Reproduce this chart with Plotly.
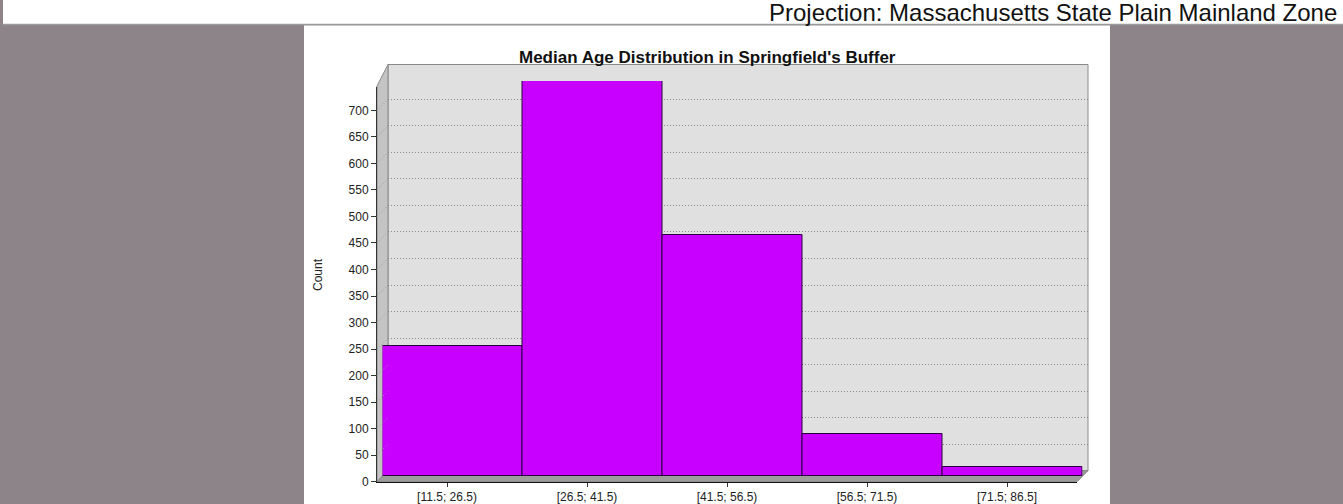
import plotly.graph_objects as go

# Histogram of median age per block group
bins = ["[11.5; 26.5)", "[26.5; 41.5)", "[41.5; 56.5)", "[56.5; 71.5)", "[71.5; 86.5]"]
counts = [246, 745, 455, 80, 17]
y_ticks = list(range(0, 701, 50))

title_text = "Median Age Distribution in Springfield's Buffer"
projection_text = "Projection: Massachusetts State Plain Mainland Zone"

W, H = 1343, 504
FONT = "Liberation Sans, Arial, sans-serif"

# pixel -> paper helpers
def px(x):
    return x / W

def py(y):
    return 1 - y / H

# 3D box geometry (pixels): front plane, depth offset
FX0, FX1 = 377, 1077
FY0, FY1 = 481.7, 86.5
DEPTH = 11
HALF = DEPTH / 2
ymax = max(counts)

fig = go.Figure()

# bars sit half way into the box
fig.add_trace(go.Bar(
    x=bins, y=counts, xaxis="x3", yaxis="y3",
    marker=dict(color="#C800FF", line=dict(color="#2a0040", width=1)),
    hoverinfo="x+y", showlegend=False,
))
# carriers for the front axes and the back-wall grid
fig.add_trace(go.Scatter(x=bins, y=counts, xaxis="x", yaxis="y", mode="markers",
                         marker=dict(opacity=0), hoverinfo="skip", showlegend=False))
fig.add_trace(go.Scatter(x=bins, y=counts, xaxis="x2", yaxis="y2", mode="markers",
                         marker=dict(opacity=0), hoverinfo="skip", showlegend=False))

cat_range = [-0.5, len(bins) - 0.5]

fig.update_layout(
    width=W, height=H, autosize=False,
    margin=dict(l=0, r=0, t=0, b=0, pad=0, autoexpand=False),
    paper_bgcolor="#8d8489",
    plot_bgcolor="rgba(0,0,0,0)",
    bargap=0,
    font=dict(family=FONT, color="#222"),
    xaxis=dict(
        domain=[px(FX0), px(FX1)], anchor="y", type="category", range=cat_range,
        showline=True, linecolor="#111", linewidth=1, automargin=False,
        ticks="outside", ticklen=4, tickcolor="#333",
        tickfont=dict(size=12, color="#222"), showgrid=False, fixedrange=True,
    ),
    yaxis=dict(
        domain=[py(FY0), py(FY1)], anchor="x", range=[0, ymax], automargin=False,
        tickvals=y_ticks, showline=True, linecolor="#333", linewidth=1,
        ticks="outside", ticklen=5, tickcolor="#333",
        tickfont=dict(size=12, color="#222"), showgrid=False, zeroline=False,
        fixedrange=True,
    ),
    xaxis2=dict(
        domain=[px(FX0 + DEPTH), px(FX1 + DEPTH)], anchor="y2", type="category",
        range=cat_range, visible=False, fixedrange=True, automargin=False,
    ),
    yaxis2=dict(
        domain=[py(FY0 - DEPTH), py(FY1 - DEPTH)], anchor="x2", range=[0, ymax],
        tickvals=y_ticks[1:], showticklabels=False, ticks="", showline=False,
        showgrid=True, gridcolor="#888888", gridwidth=1, griddash="1px,2px",
        zeroline=False, fixedrange=True, automargin=False,
    ),
    xaxis3=dict(
        domain=[px(FX0 + HALF), px(FX1 + HALF)], anchor="y3", type="category",
        range=cat_range, visible=False, fixedrange=True, automargin=False,
    ),
    yaxis3=dict(
        domain=[py(FY0 - HALF), py(FY1 - HALF)], anchor="x3", range=[0, ymax],
        visible=False, fixedrange=True, automargin=False,
    ),
)

def poly(points):
    return "M " + " L ".join(f"{px(x)},{py(y)}" for x, y in points) + " Z"

shapes = [
    # white header strip
    dict(type="rect", xref="paper", yref="paper", layer="below",
         x0=px(3), x1=1, y0=py(24), y1=1, fillcolor="white", line=dict(width=0)),
    dict(type="line", xref="paper", yref="paper", layer="below",
         x0=px(3), x1=1, y0=py(24.5), y1=py(24.5), line=dict(color="#9a9a9a", width=1.5)),
    # chart panel
    dict(type="rect", xref="paper", yref="paper", layer="below",
         x0=px(304), x1=px(1110), y0=-0.05, y1=py(25.5), fillcolor="white", line=dict(width=0)),
    # back wall
    dict(type="rect", xref="paper", yref="paper", layer="below",
         x0=px(FX0 + DEPTH), x1=px(FX1 + DEPTH), y0=py(FY0 - DEPTH), y1=py(FY1 - DEPTH - 11),
         fillcolor="#E0E0E0", line=dict(color="#8a8a8a", width=1)),
    # left wall
    dict(type="path", xref="paper", yref="paper", layer="below",
         path=poly([(FX0, FY1 - 0.5), (FX0 + DEPTH, FY1 - DEPTH - 11),
                    (FX0 + DEPTH, FY0 - DEPTH), (FX0, FY0)]),
         fillcolor="#C4C4C4", line=dict(color="#8a8a8a", width=1)),
    # floor
    dict(type="path", xref="paper", yref="paper", layer="below",
         path=poly([(FX0, FY0), (FX0 + DEPTH, FY0 - DEPTH),
                    (FX1 + DEPTH, FY0 - DEPTH), (FX1, FY0)]),
         fillcolor="#9C9C9C", line=dict(color="#888888", width=1)),
]

# dotted links across the left wall from each tick to its grid line
for v in y_ticks[1:]:
    shapes.append(dict(
        type="line", xref="paper", yref="y", ysizemode="pixel", yanchor=v,
        x0=px(FX0), x1=px(FX0 + DEPTH), y0=0, y1=DEPTH,
        line=dict(color="#9a9a9a", width=1, dash="1px,2px"), layer="above",
    ))

fig.update_layout(shapes=shapes)

fig.add_annotation(
    text=f"<b>{title_text}</b>", xref="paper", yref="paper",
    x=px(708), y=py(57.5), xanchor="center", yanchor="middle", showarrow=False,
    font=dict(family=FONT, size=17, color="#111"),
)
fig.add_annotation(
    text="Count", xref="paper", yref="paper", x=px(318), y=py(275),
    xanchor="center", yanchor="middle", textangle=-90, showarrow=False,
    font=dict(family=FONT, size=12, color="#222"),
)
fig.add_annotation(
    text=projection_text, xref="paper", yref="paper", x=px(1339), y=py(12.5),
    xanchor="right", yanchor="middle", showarrow=False,
    font=dict(family=FONT, size=24, color="#111"),
)

fig.write_html("out.html", config={"displayModeBar": False})
